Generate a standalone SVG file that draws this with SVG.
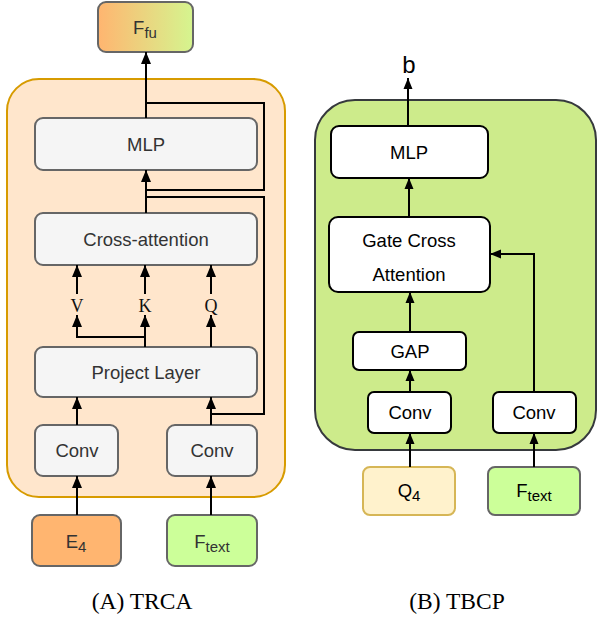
<svg xmlns="http://www.w3.org/2000/svg" width="598" height="621" viewBox="0 0 598 621">
<defs>
<linearGradient id="gfu" x1="0" y1="0" x2="1" y2="0">
<stop offset="0" stop-color="#FFB570"/>
<stop offset="1" stop-color="#D5F58F"/>
</linearGradient>
<marker id="ah" markerUnits="userSpaceOnUse" markerWidth="12" markerHeight="10" refX="12" refY="5" orient="auto">
<path d="M0,0 L12,5 L0,10 z" fill="#000"/>
</marker>
<marker id="ah2" markerUnits="userSpaceOnUse" markerWidth="11" markerHeight="10" refX="11" refY="5" orient="auto">
<path d="M0,0.5 L11,5 L0,9.5 z" fill="#000"/>
</marker>
<style>
.gbox{fill:#F5F5F5;stroke:#666;stroke-width:2}
.wbox{fill:#FFFFFF;stroke:#000;stroke-width:2}
.t{font-family:"Liberation Sans",Arial,sans-serif;font-size:18.5px;fill:#333;text-anchor:middle}
.tb{font-family:"Liberation Sans",Arial,sans-serif;font-size:18.5px;fill:#000;text-anchor:middle}
.lab{font-family:"Liberation Serif","Times New Roman",serif;font-size:18px;fill:#111;text-anchor:middle}
.cap{font-family:"Liberation Serif","Times New Roman",serif;font-size:23.5px;fill:#000;text-anchor:middle}
.ln{fill:none;stroke:#000;stroke-width:2}
.arr{fill:none;stroke:#000;stroke-width:2;marker-end:url(#ah)}
.arr2{fill:none;stroke:#000;stroke-width:2;marker-end:url(#ah2)}
</style>
</defs>

<!-- Panel A -->
<rect id="trca-container" x="7" y="79" width="278" height="418" rx="32" fill="#FFE6CC" stroke="#D79B00" stroke-width="2"/>

<g id="a-ffu"><rect x="98" y="2" width="95" height="50" rx="8" fill="url(#gfu)" stroke="#666" stroke-width="2"/>
<text class="t" x="145" y="34" font-size="20">F<tspan font-size="15" dy="4">fu</tspan></text></g>
<g id="a-mlp"><rect class="gbox" x="35" y="118" width="222" height="52" rx="8"/><text class="t" x="146" y="151">MLP</text></g>
<g id="a-cross"><rect class="gbox" x="35" y="213" width="222" height="52" rx="8"/><text class="t" x="146" y="246">Cross-attention</text></g>
<g id="a-proj"><rect class="gbox" x="35" y="347" width="222" height="50" rx="8"/><text class="t" x="146" y="379">Project Layer</text></g>
<g id="a-conv1"><rect class="gbox" x="35" y="425" width="83" height="51" rx="8"/><text class="t" x="77" y="457">Conv</text></g>
<g id="a-conv2"><rect class="gbox" x="167" y="425" width="90" height="51" rx="8"/><text class="t" x="212" y="457">Conv</text></g>
<g id="a-e4"><rect x="32" y="515" width="89" height="51" rx="8" fill="#FFB570" stroke="#666" stroke-width="2"/>
<text class="t" x="76" y="548" font-size="20">E<tspan font-size="15" dy="4">4</tspan></text></g>
<g id="a-ftext"><rect x="167" y="515" width="90" height="51" rx="8" fill="#CCFF99" stroke="#666" stroke-width="2"/>
<text class="t" x="212" y="548" font-size="20">F<tspan font-size="15" dy="4">text</tspan></text></g>
<g id="a-labels">
<text class="lab" x="77" y="312">V</text>
<text class="lab" x="145" y="312">K</text>
<text class="lab" x="211" y="312">Q</text>
</g>

<g id="a-connectors">
<path class="arr" d="M146,118 V52"/>
<path class="arr" d="M146,213 V170"/>
<path class="ln" d="M146,190 H264 V103 H146"/>
<path class="ln" d="M146,197 H264 V414 H211"/>
<path class="arr" d="M77,294 V265"/>
<path class="arr" d="M145,294 V265"/>
<path class="arr" d="M211,294 V265"/>
<path class="arr" d="M145,347 V315"/>
<path class="arr" d="M145,337 H77 V315"/>
<path class="arr" d="M211,347 V315"/>
<path class="arr" d="M77,425 V397"/>
<path class="arr" d="M211,425 V397"/>
<path class="arr" d="M77,515 V476"/>
<path class="arr" d="M211,515 V476"/>
</g>
<text class="cap" x="142" y="609">(A) TRCA</text>

<!-- Panel B -->
<rect id="tbcp-container" x="315" y="100" width="281" height="350" rx="40" fill="#CDEB8B" stroke="#36393D" stroke-width="2"/>
<g id="b-out"><text x="409" y="73" font-family="'Liberation Sans',Arial,sans-serif" font-size="24" fill="#000" text-anchor="middle">b</text></g>
<g id="b-mlp"><rect class="wbox" x="331" y="126" width="157" height="52" rx="8"/><text class="tb" x="409" y="159">MLP</text></g>
<g id="b-gca"><rect class="wbox" x="329" y="217" width="161" height="75" rx="9"/>
<text class="tb" x="409" y="247">Gate Cross</text><text class="tb" x="409" y="281">Attention</text></g>
<g id="b-gap"><rect class="wbox" x="353" y="332" width="113" height="38" rx="6"/><text class="tb" x="410" y="358">GAP</text></g>
<g id="b-conv1"><rect class="wbox" x="368" y="392" width="83" height="41" rx="6"/><text class="tb" x="410" y="419">Conv</text></g>
<g id="b-conv2"><rect class="wbox" x="493" y="392" width="83" height="41" rx="6"/><text class="tb" x="534" y="419">Conv</text></g>
<g id="b-q4"><rect x="363" y="467" width="92" height="48" rx="7" fill="#FFF2CC" stroke="#D6B656" stroke-width="2"/>
<text class="tb" x="409" y="497" font-size="20">Q<tspan font-size="15" dy="4">4</tspan></text></g>
<g id="b-ftext"><rect x="488" y="467" width="92" height="48" rx="7" fill="#CCFF99" stroke="#666" stroke-width="2"/>
<text class="tb" x="534" y="497" font-size="20" fill="#333">F<tspan font-size="15" dy="4">text</tspan></text></g>

<g id="b-connectors">
<path class="arr2" d="M408,126 V78"/>
<path class="arr2" d="M409,217 V178"/>
<path class="arr2" d="M410,332 V292"/>
<path class="arr2" d="M410,392 V370"/>
<path class="arr2" d="M410,467 V433"/>
<path class="arr2" d="M534,467 V433"/>
<path class="arr2" d="M534,392 V254 H490"/>
</g>
<text class="cap" x="457" y="609">(B) TBCP</text>
</svg>
